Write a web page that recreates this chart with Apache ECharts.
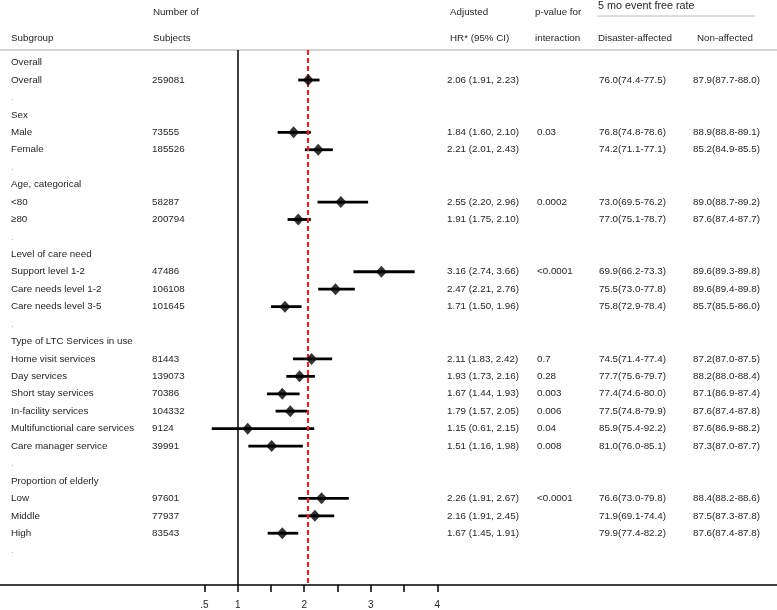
<!DOCTYPE html>
<html><head><meta charset="utf-8">
<script src="https://cdn.jsdelivr.net/npm/echarts@6/dist/echarts.min.js"></script>
<style>html,body{margin:0;padding:0;background:#fff}#c{width:777px;height:610px}</style>
</head><body><div id="c"></div>
<script>
// ---- data ----
const labels = ['Overall','Overall','.','Sex','Male','Female','.','Age, categorical','<80','≥80','.',
  'Level of care need','Support level 1-2','Care needs level 1-2','Care needs level 3-5','.',
  'Type of LTC Services in use','Home visit services','Day services','Short stay services','In-facility services',
  'Multifunctional care services','Care manager service','.','Proportion of elderly','Low','Middle','High','.'];
const subjects = ['','259081','','','73555','185526','','','58287','200794','','','47486','106108','101645','',
  '','81443','139073','70386','104332','9124','39991','','','97601','77937','83543',''];
const hr = [null,2.06,null,null,1.84,2.21,null,null,2.55,1.91,null,null,3.16,2.47,1.71,null,
  null,2.11,1.93,1.67,1.79,1.15,1.51,null,null,2.26,2.16,1.67,null];
const ciLow = [null,1.91,null,null,1.60,2.01,null,null,2.20,1.75,null,null,2.74,2.21,1.50,null,
  null,1.83,1.73,1.44,1.57,0.61,1.16,null,null,1.91,1.91,1.45,null];
const ciHigh = [null,2.23,null,null,2.10,2.43,null,null,2.96,2.10,null,null,3.66,2.76,1.96,null,
  null,2.42,2.16,1.93,2.05,2.15,1.98,null,null,2.67,2.45,1.91,null];
const pInteraction = ['','','','','0.03','','','','0.0002','','','','<0.0001','','','',
  '','0.7','0.28','0.003','0.006','0.04','0.008','','','<0.0001','','',''];
const disasterRate = ['','76.0(74.4-77.5)','','','76.8(74.8-78.6)','74.2(71.1-77.1)','','','73.0(69.5-76.2)','77.0(75.1-78.7)','','',
  '69.9(66.2-73.3)','75.5(73.0-77.8)','75.8(72.9-78.4)','','','74.5(71.4-77.4)','77.7(75.6-79.7)','77.4(74.6-80.0)',
  '77.5(74.8-79.9)','85.9(75.4-92.2)','81.0(76.0-85.1)','','','76.6(73.0-79.8)','71.9(69.1-74.4)','79.9(77.4-82.2)',''];
const nonAffectedRate = ['','87.9(87.7-88.0)','','','88.9(88.8-89.1)','85.2(84.9-85.5)','','','89.0(88.7-89.2)','87.6(87.4-87.7)','','',
  '89.6(89.3-89.8)','89.6(89.4-89.8)','85.7(85.5-86.0)','','','87.2(87.0-87.5)','88.2(88.0-88.4)','87.1(86.9-87.4)',
  '87.6(87.4-87.8)','87.6(86.9-88.2)','87.3(87.0-87.7)','','','88.4(88.2-88.6)','87.5(87.3-87.8)','87.6(87.4-87.8)',''];
const overallHR = 2.06;
const nullHR = 1;
const tickValues = [0.5,1,1.5,2,2.5,3,3.5,4];
const tickLabelValues = [0.5,1,2,3,4];
const tickLabels = ['.5','1','2','3','4'];

// ---- chart ----
const FONT = '"Liberation Sans", Arial, Helvetica, sans-serif';
const FS = 9.8;
const TXT = '#262626';
const chart = echarts.init(document.getElementById('c'), null, {renderer:'canvas'});
const rowIdx = labels.map((_, i) => i);
const hrText = hr.map((v, i) => v == null ? '' : v.toFixed(2) + ' (' + ciLow[i].toFixed(2) + ', ' + ciHigh[i].toFixed(2) + ')');

const COLS = {label: 11, subj: 152, hr: 447, p: 537, dis: 599, non: 693};

function txt(text, x, y, color, size) {
  return {type:'text', x:x, y:y, silent:true,
    style:{text:text, fill:color || TXT, fontSize:size || FS, fontFamily:FONT, verticalAlign:'middle', align:'left'}};
}

const whiskerData = [], pointData = [];
hr.forEach((v, i) => { if (v != null) { whiskerData.push([ciLow[i], ciHigh[i], i]); pointData.push([v, i]); } });

const option = {
  animation:false,
  grid:{left:0, right:0, top:50, bottom:25},
  xAxis:{type:'value', min:-2.573, max:9.106,
    splitLine:{show:false},
    axisLine:{onZero:false, lineStyle:{color:'#000', width:1.5}},
    axisTick:{show:true, customValues:tickValues, length:7, lineStyle:{color:'#000', width:1.5}},
    axisLabel:{customValues:tickLabelValues, margin:15, color:TXT, fontSize:10, fontFamily:FONT,
      formatter:v => { const k = tickLabelValues.indexOf(v); return k >= 0 ? tickLabels[k] : ''; }}
  },
  yAxis:{type:'value', inverse:true, min:-0.723, max:29.97, show:false},
  graphic:[
    {type:'line', shape:{x1:0, y1:50, x2:777, y2:50}, style:{stroke:'#c4c4c4', lineWidth:1.5}, silent:true},
    {type:'line', shape:{x1:597, y1:16, x2:755, y2:16}, style:{stroke:'#bdbdbd', lineWidth:1.2}, silent:true},
    txt('Subgroup', 11, 38), txt('Number of', 153, 12), txt('Subjects', 153, 38),
    txt('Adjusted', 450, 12), txt('HR* (95% CI)', 450, 38),
    txt('p-value for', 535, 12), txt('interaction', 535, 38),
    txt('5 mo event free rate', 598, 6, TXT, 10.8),
    txt('Disaster-affected', 598, 38), txt('Non-affected', 697, 38)
  ],
  series:[
    {type:'custom', data:rowIdx.map(i => [0, i]), silent:true, z:5,
      renderItem:(params, api) => {
        const i = api.value(1);
        const y = api.coord([0, i])[1];
        const lab = labels[i];
        return {type:'group', children:[
          txt(lab, COLS.label, y, lab === '.' ? '#b0b0b0' : TXT),
          txt(subjects[i], COLS.subj, y),
          txt(hrText[i], COLS.hr, y),
          txt(pInteraction[i], COLS.p, y),
          txt(disasterRate[i], COLS.dis, y),
          txt(nonAffectedRate[i], COLS.non, y)
        ]};
      }},
    {type:'custom', data:whiskerData, silent:true, z:4,
      renderItem:(params, api) => {
        const a = api.coord([api.value(0), api.value(2)]);
        const b = api.coord([api.value(1), api.value(2)]);
        return {type:'line', shape:{x1:a[0], y1:a[1], x2:b[0], y2:b[1]}, style:{stroke:'#000', lineWidth:2.8}};
      }},
    {type:'scatter', data:pointData, symbol:'diamond', symbolSize:[11,12], itemStyle:{color:'#000'}, z:6, silent:true,
      markLine:{silent:true, symbol:'none', label:{show:false}, animation:false,
        data:[
          {xAxis:nullHR, lineStyle:{color:'#000', type:'solid', width:1.5}},
          {xAxis:overallHR, lineStyle:{color:'#ff1a1a', type:[5,3], width:2}}
        ]}}
  ]
};
chart.setOption(option);
</script>
</body></html>
